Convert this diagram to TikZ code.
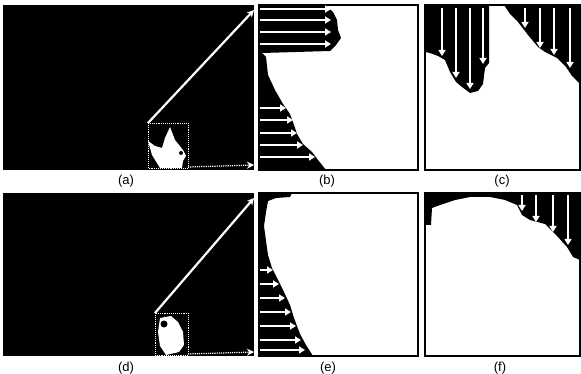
\documentclass[tikz,border=0pt]{standalone}
\usepackage{fontspec}
\setmainfont{Liberation Sans}
\usetikzlibrary{arrows.meta}
\begin{document}
\begin{tikzpicture}[x=1pt,y=-1pt,
  panel/.style={draw=black,line width=1.6pt,fill=white},
  blob/.style={fill=black},
  warr/.style={draw=white,line width=2pt,-{Triangle[length=6pt,width=7pt]}},
  zline/.style={draw=white,line width=2.2pt,-{Stealth[length=7pt,width=7pt]}},
  dline/.style={draw=white,line width=1.2pt,densely dotted,-{Stealth[length=7pt,width=7pt]}},
  zbox/.style={draw=white,line width=0.9pt,densely dotted},
  lab/.style={font=\fontsize{13}{15}\selectfont,inner sep=0pt}]
\useasboundingbox (0,0) rectangle (581,374);
\fill[white] (0,0) rectangle (581,374);

% ---------- (a) ----------
\fill[black] (3,5) rectangle (254,170);
\fill[white] (170,127) -- (175,140) -- (183,150) -- (186,156) -- (183,161) -- (182,168) -- (160,168) -- (152,155) -- (148,141) -- (155,146) -- (162,148) -- (165,138) -- cycle;
\fill[black] (181,153) circle (2);
\draw[zbox] (148,123) rectangle (188,168);
\coordinate (a1) at (148,123);
\coordinate (a2) at (254,10);
\coordinate (a3) at (188,167);
\coordinate (a4) at (254,165);
\draw[zline] (a1) -- (a2);
\draw[dline] (a3) -- (a4);
\node[lab] (la) at (126,181) {(a)};

% ---------- (b) ----------
\draw[panel] (259,5) rectangle (418,170);
\fill[blob] (259,5) -- (325,5) -- (333,12) -- (337,20) -- (338,30) -- (341,38) -- (336,45) -- (330,51) -- (262,53) -- (266,57) -- (268,75) -- (275,90) -- (283,104) -- (290,114) -- (294,125) -- (297,134) -- (303,144) -- (312,152) -- (318,160) -- (326,170) -- (259,170) -- cycle;
\foreach \y in {9,20,32,44} \draw[warr] (260,\y) -- (331,\y);
\draw[warr] (260,108) -- (286,108);
\draw[warr] (260,120) -- (293,120);
\draw[warr] (260,133) -- (297,133);
\draw[warr] (260,145) -- (303,145);
\draw[warr] (260,157) -- (315,157);
\node[lab] (lb) at (327,181) {(b)};

% ---------- (c) ----------
\draw[panel] (425,5) rectangle (580,170);
\fill[blob] (425,5) -- (489,5) -- (489,63) -- (485,68) -- (483,84) -- (478,91) -- (470,93) -- (462,87) -- (456,82) -- (450,72) -- (445,60) -- (438,56) -- (430,53) -- (425,52) -- cycle;
\fill[blob] (504,5) -- (580,5) -- (580,84) -- (572,76) -- (566,67) -- (557,58) -- (545,52) -- (538,47) -- (528,35) -- (518,22) -- (510,14) -- cycle;
\draw[warr] (442,8) -- (442,56);
\draw[warr] (456,8) -- (456,78);
\draw[warr] (470,8) -- (470,89);
\draw[warr] (483,8) -- (483,64);
\draw[warr] (525,8) -- (525,28);
\draw[warr] (540,8) -- (540,48);
\draw[warr] (554,8) -- (554,55);
\draw[warr] (570,8) -- (570,68);
\node[lab] (lc) at (502,181) {(c)};

% ---------- (d) ----------
\fill[black] (3,193) rectangle (254,356);
\fill[white] (160,318) -- (171,316) -- (178,322) -- (183,332) -- (184,345) -- (179,352) -- (166,355) -- (160,346) -- (158,332) -- cycle;
\fill[black] (164,324) circle (3.5);
\draw[zbox] (155,313) rectangle (188,355);
\coordinate (d1) at (155,313);
\coordinate (d2) at (254,198);
\coordinate (d3) at (188,354);
\coordinate (d4) at (254,352);
\draw[zline] (d1) -- (d2);
\draw[dline] (d3) -- (d4);
\node[lab] (ld) at (126,368) {(d)};

% ---------- (e) ----------
\draw[panel] (259,193) rectangle (418,356);
\fill[blob] (259,193) -- (292,193) -- (290,197) -- (276,198) -- (268,201) -- (266,212) -- (264,226) -- (266,241) -- (268,255) -- (272,268) -- (278,280) -- (284,292) -- (290,305) -- (294,318) -- (300,334) -- (306,345) -- (313,356) -- (259,356) -- cycle;
\draw[warr] (260,270) -- (273,270);
\draw[warr] (260,284) -- (279,284);
\draw[warr] (260,298) -- (285,298);
\draw[warr] (260,312) -- (291,312);
\draw[warr] (260,326) -- (296,326);
\draw[warr] (260,340) -- (301,340);
\draw[warr] (260,350) -- (305,350);
\node[lab] (le) at (328,368) {(e)};

% ---------- (f) ----------
\draw[panel] (425,193) rectangle (580,356);
\fill[blob] (425,193) -- (580,193) -- (580,260) -- (573,257) -- (567,247) -- (557,236) -- (545,224) -- (530,220) -- (522,215) -- (517,205) -- (505,200) -- (490,197) -- (470,197) -- (455,200) -- (440,205) -- (432,208) -- (431,225) -- (425,225) -- cycle;
\draw[warr] (522,195) -- (522,211);
\draw[warr] (536,195) -- (536,222);
\draw[warr] (553,195) -- (553,232);
\draw[warr] (568,195) -- (568,245);
\node[lab] (lf) at (500,368) {(f)};
\end{tikzpicture}
\end{document}
